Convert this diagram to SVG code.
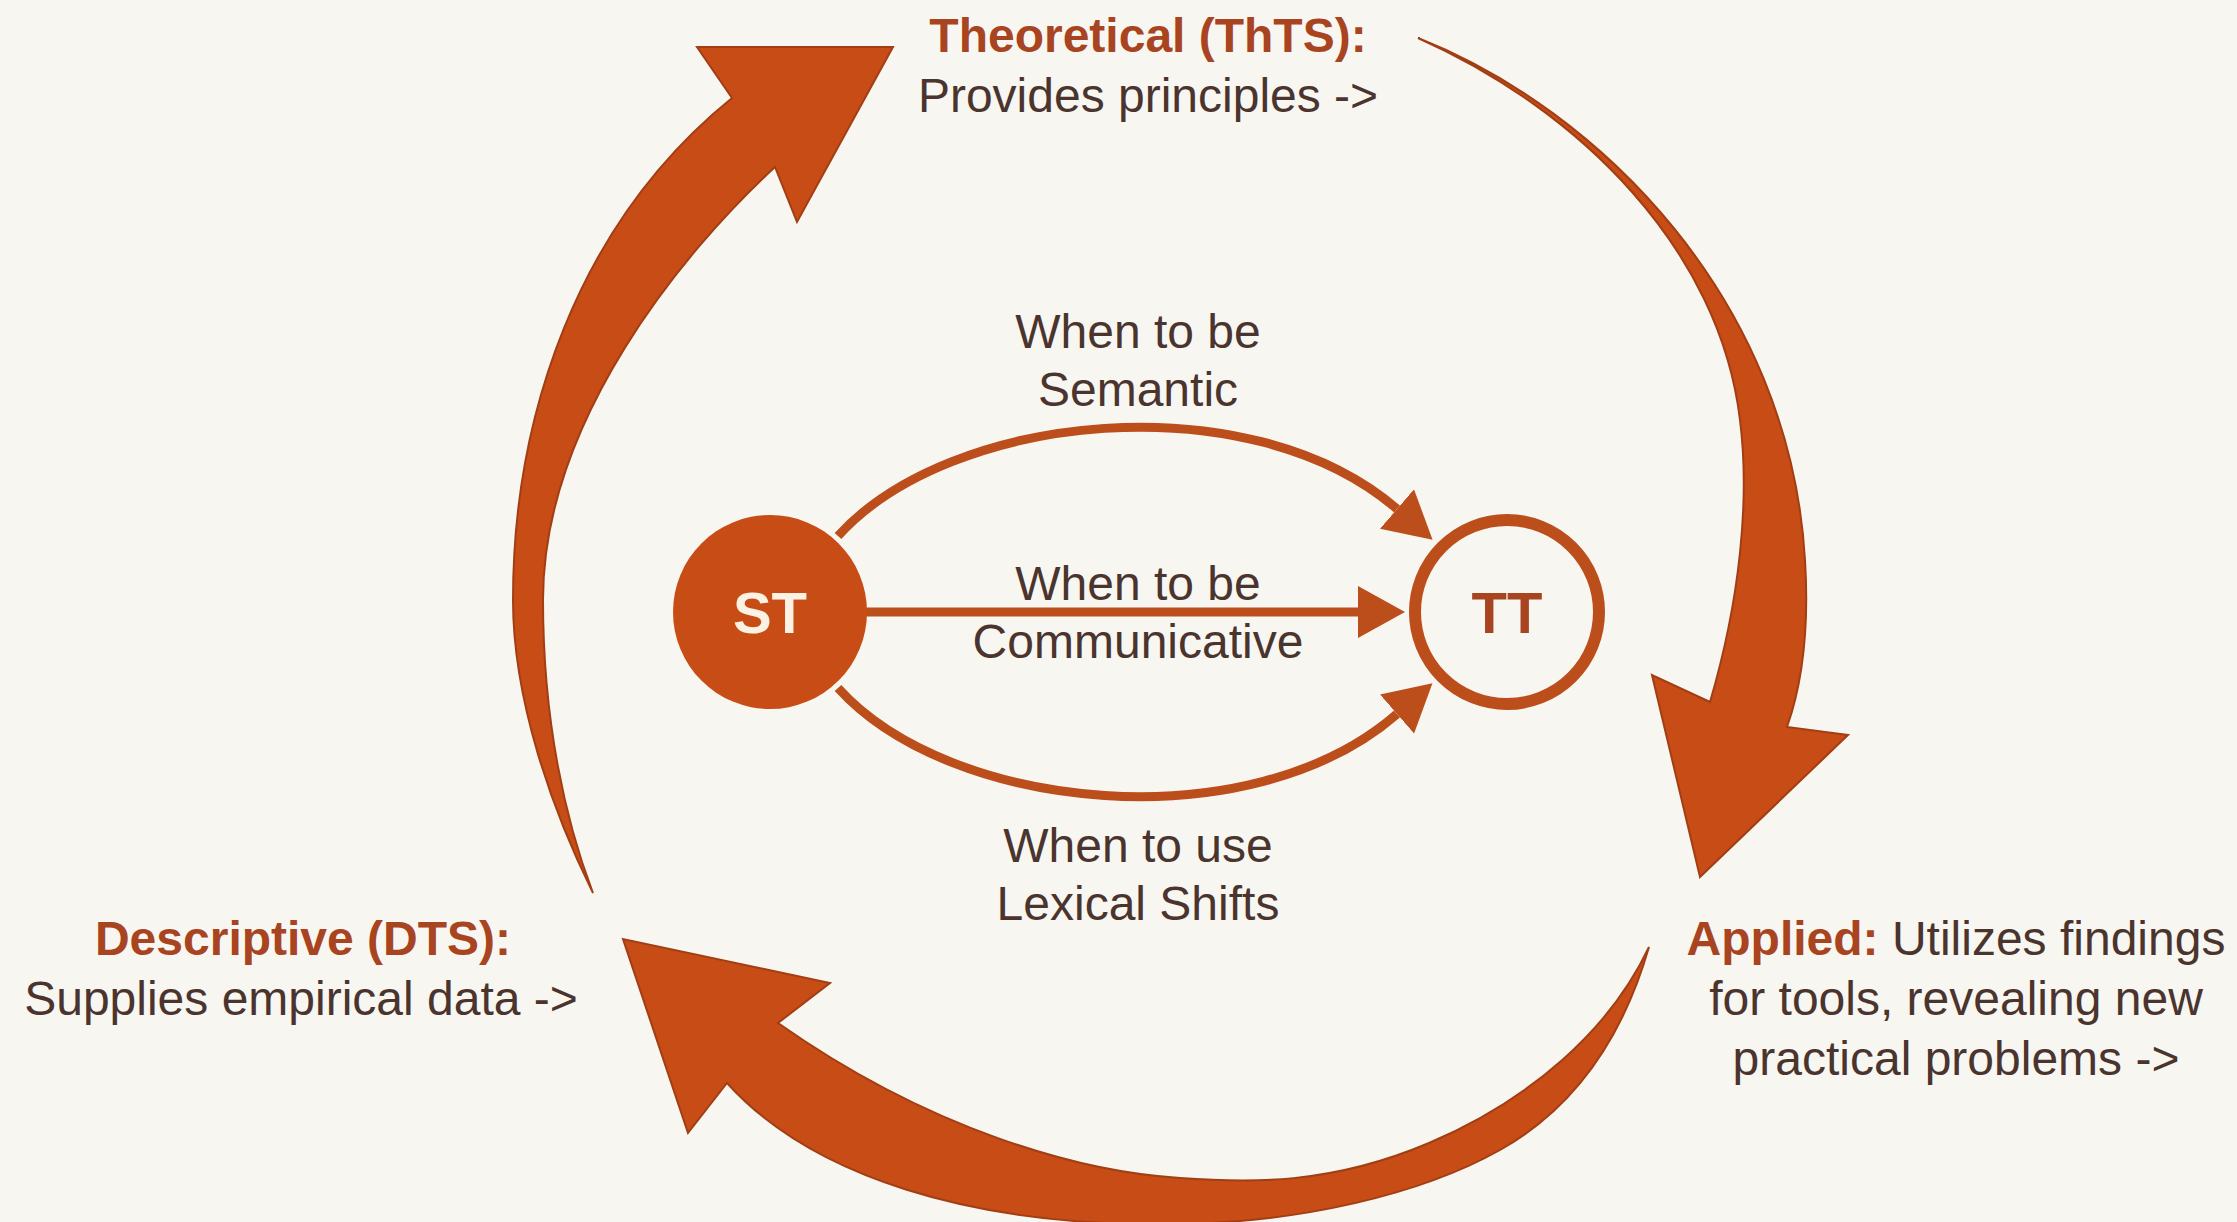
<svg xmlns="http://www.w3.org/2000/svg" width="2237" height="1222" viewBox="0 0 2237 1222">
<defs>
<style>
.big{fill:#C84C15;stroke:#A23E14;stroke-width:2;stroke-linejoin:miter}
.conn{fill:none;stroke:#BC4E1C;stroke-width:9}
.lbl{font-family:"Liberation Sans",Arial,sans-serif;font-size:48px;fill:#4A342D;text-anchor:middle}
.bold{font-weight:bold;fill:#A8441F}
.node{font-family:"Liberation Sans",Arial,sans-serif;font-size:58px;font-weight:bold;text-anchor:middle}
</style>
<marker id="ah" markerUnits="userSpaceOnUse" markerWidth="50" markerHeight="54" refX="0" refY="26" orient="auto">
<path d="M0,0 L47,26 L0,52 Z" fill="#BC4E1C"/>
</marker>
</defs>
<rect width="2237" height="1222" fill="#F7F6F1"/>

<g id="cycle">
<path id="arrow-dts-thts" class="big" d="M593,893 C552,810 513,700 513,600 C513,420 575,225 732,98 L697,47 L893,47 L797,222 L775,167 C685,250 543,420 543,600 C543,720 565,820 593,893 Z"/>
<path id="arrow-thts-applied" class="big" d="M1418,38 C1600,110 1790,300 1805,560 C1810,640 1800,690 1787,727 L1848,735 L1700,877 L1652,675 L1710,702 C1740,600 1750,500 1740,420 C1720,250 1580,110 1418,38 Z"/>
<path id="arrow-applied-dts" class="big" d="M1649,947 C1610,1030 1530,1100 1429,1143 C1330,1185 1250,1183 1180,1178 C1080,1172 930,1130 778,1023 L830,983 L623,939 L688,1133 L727,1083 C810,1175 970,1228 1180,1224 C1300,1222 1420,1195 1500,1150 C1580,1105 1625,1030 1649,947 Z"/>
</g>

<g id="connectors">
<path id="c-semantic" class="conn" d="M838,536 C950,412 1250,382 1397,509" marker-end="url(#ah)"/>
<path id="c-communicative" class="conn" d="M866,612 L1358,612" marker-end="url(#ah)"/>
<path id="c-lexical" class="conn" d="M838,688 C950,812 1250,842 1397,714" marker-end="url(#ah)"/>
</g>

<g id="node-st">
<circle cx="770" cy="612" r="97" fill="#C84C15"/>
<text class="node" x="770" y="633" fill="#FBF2E4">ST</text>
</g>

<g id="node-tt">
<circle cx="1507" cy="612" r="92" fill="#F7F6F1" stroke="#BC4E1C" stroke-width="12"/>
<text class="node" x="1507" y="633" fill="#A8441F">TT</text>
</g>

<g id="labels">
<text class="lbl" x="1138" y="348">When to be</text>
<text class="lbl" x="1138" y="406">Semantic</text>
<text class="lbl" x="1138" y="600">When to be</text>
<text class="lbl" x="1138" y="658">Communicative</text>
<text class="lbl" x="1138" y="862">When to use</text>
<text class="lbl" x="1138" y="920">Lexical Shifts</text>
</g>

<g id="node-theoretical">
<text class="lbl bold" x="1148" y="52">Theoretical (ThTS):</text>
<text class="lbl" x="1148" y="112">Provides principles -&gt;</text>
</g>

<g id="node-descriptive">
<text class="lbl bold" x="303" y="955">Descriptive (DTS):</text>
<text class="lbl" x="301" y="1015">Supplies empirical data -&gt;</text>
</g>

<g id="node-applied">
<text class="lbl" x="1956" y="955"><tspan class="bold">Applied:</tspan> Utilizes findings</text>
<text class="lbl" x="1956" y="1015">for tools, revealing new</text>
<text class="lbl" x="1956" y="1075">practical problems -&gt;</text>
</g>
</svg>
